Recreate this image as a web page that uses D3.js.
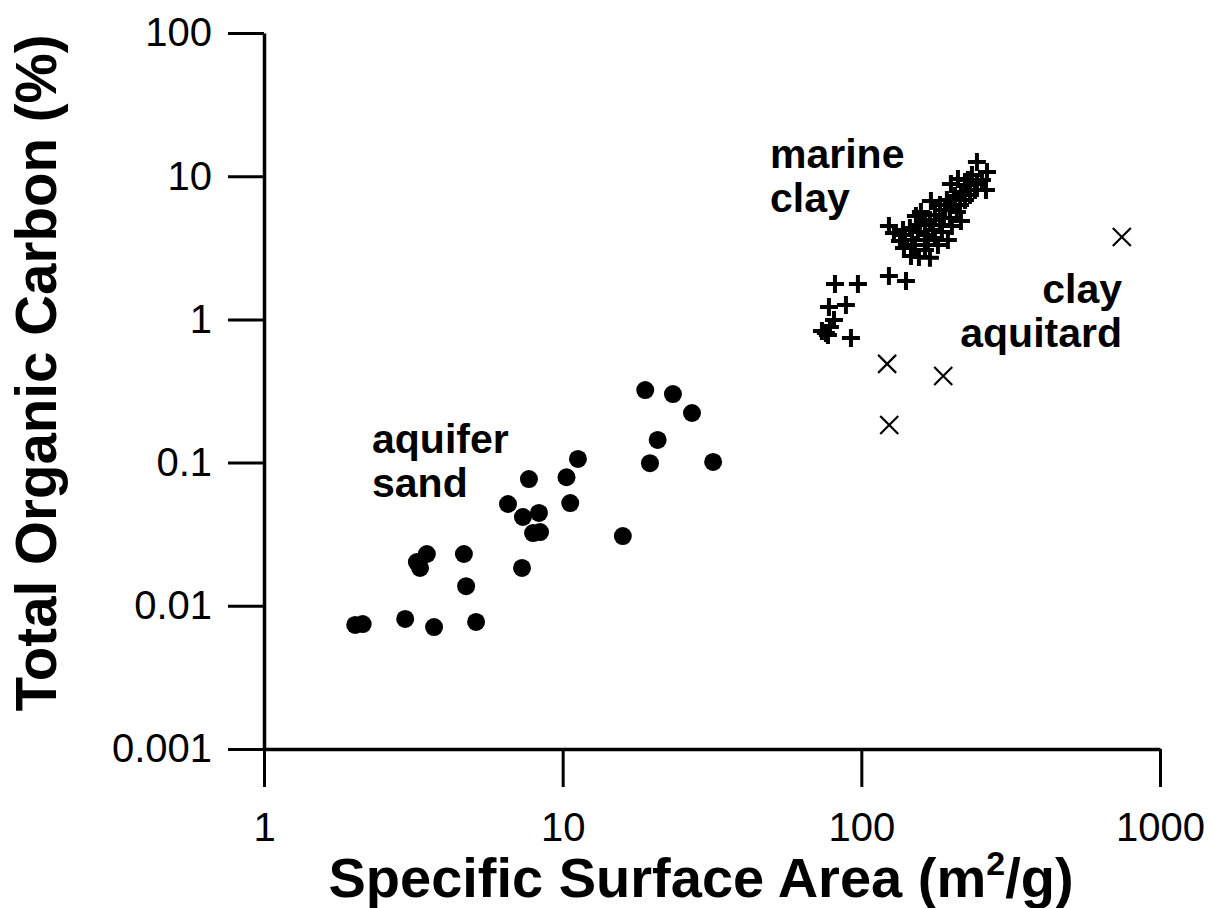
<!DOCTYPE html>
<html>
<head>
<meta charset="utf-8">
<script src="https://cdn.jsdelivr.net/npm/d3@7"></script>
<style>
  html, body { margin: 0; padding: 0; background: #fff; }
  svg { display: block; }
  text { font-family: "Liberation Sans", Arial, sans-serif; fill: #000; }
</style>
</head>
<body>
<svg id="chart" width="1213" height="908"></svg>
<script>
// ---- data ----
const xTicks = [1, 10, 100, 1000];
const xTickLabels = ["1", "10", "100", "1000"];
const yTicks = [0.001, 0.01, 0.1, 1, 10, 100];
const yTickLabels = ["0.001", "0.01", "0.1", "1", "10", "100"];

// aquifer sand (filled circles)
const sandX = [18.9, 23.4, 27.1, 20.8, 19.6, 31.9, 11.25, 10.3, 7.71, 10.6, 6.56, 7.36, 8.33, 7.96, 8.4, 15.9, 3.25, 3.51, 3.33, 4.67, 7.31, 4.75, 2.02, 2.14, 2.97, 3.71, 5.13];
const sandY = [0.321, 0.301, 0.222, 0.144, 0.099, 0.101, 0.106, 0.079, 0.0767, 0.0522, 0.0514, 0.0417, 0.0445, 0.0322, 0.0327, 0.0307, 0.0202, 0.0230, 0.0184, 0.0230, 0.0184, 0.0137, 0.00735, 0.00746, 0.00809, 0.00711, 0.00771];

// marine clay (plus signs)
const marineX = [243.8, 263.4, 261.4, 243.8, 234.6, 222.3, 210.6, 199.5, 215.5, 231.0, 205.8, 193.4, 215.5, 213.9, 197.9, 183.4, 171.0, 176.4, 189.0, 201.0, 158.3, 152.3, 163.3, 173.7, 186.1, 194.9, 180.5, 167.1, 154.7, 145.4, 123.7, 128.6, 134.7, 138.9, 146.6, 155.9, 163.3, 147.7, 137.9, 169.7,
  157.1, 169.7, 183.4, 197.9, 208.9, 190.5, 222.3, 240.1, 227.5, 253.4, 140.0, 151.2, 163.3, 176.4, 186.1, 202.6,
  81.6, 97.4, 123.7, 141.1, 77.9, 88.8, 81.0, 78.5, 76.1, 73.8, 77.3, 92.3];
const marineY = [12.57, 10.70, 8.01, 8.82, 10.19, 8.68, 9.56, 8.82, 7.76, 7.39, 7.27, 6.82, 4.87, 6.30, 5.81, 6.30, 6.71, 5.36, 5.11, 4.49, 5.62, 5.27, 4.79, 4.21, 4.08, 3.58, 3.31, 3.58, 4.08, 4.35, 4.49, 4.01, 3.53, 3.15, 2.77, 2.73, 3.05, 3.58, 4.21, 2.69,
  4.56, 4.94, 4.56, 5.11, 5.62, 5.81, 6.82, 8.01, 9.41, 9.41, 3.89, 3.31, 3.89, 3.70, 4.56, 6.30,
  1.767, 1.767, 2.01, 1.854, 1.221, 1.260, 0.990, 0.885, 0.804, 0.830, 0.779, 0.742];

// clay aquitard (x markers)
const aquitardX = [745, 122, 188, 124];
const aquitardY = [3.76, 0.489, 0.403, 0.183];

const xTitle = "Specific Surface Area (m";
const xTitleSup = "2";
const xTitleEnd = "/g)";
const yTitle = "Total Organic Carbon (%)";
const labelMarine = ["marine", "clay"];
const labelSand = ["aquifer", "sand"];
const labelAquitard = ["clay", "aquitard"];

// ---- chart ----
const svg = d3.select("#chart");
const x = d3.scaleLog().domain([1, 1000]).range([264, 1160]);
const y = d3.scaleLog().domain([0.001, 100]).range([749, 33]);

const yAxis = d3.axisLeft(y).tickValues(yTicks)
  .tickFormat((d, i) => yTickLabels[i]).tickSize(36).tickSizeOuter(0).tickPadding(16);
const gy = svg.append("g").attr("transform", "translate(264,0)").call(yAxis);

const xAxis = d3.axisBottom(x).tickValues(xTicks)
  .tickFormat((d, i) => xTickLabels[i]).tickSize(38).tickSizeOuter(0).tickPadding(26);
const gx = svg.append("g").attr("transform", "translate(0,749)").call(xAxis);

[gx, gy].forEach(g => {
  g.select(".domain").attr("stroke", "#000").attr("stroke-width", 3.5);
  g.selectAll(".tick line").attr("stroke", "#000").attr("stroke-width", 3);
  g.selectAll(".tick text").attr("font-size", 40).attr("fill", "#000")
    .style("font-family", "'Liberation Sans', Arial, sans-serif");
});

// sand points
svg.append("g").selectAll("circle").data(sandX).join("circle")
  .attr("cx", d => x(d)).attr("cy", (d, i) => y(sandY[i])).attr("r", 9).attr("fill", "#000");

// marine clay plus
svg.append("g").selectAll("path").data(marineX).join("path")
  .attr("transform", (d, i) => `translate(${x(d)},${y(marineY[i])})`)
  .attr("d", "M-9,0H9M0,-9V9").attr("stroke", "#000").attr("stroke-width", 4).attr("fill", "none");

// aquitard x
svg.append("g").selectAll("path").data(aquitardX).join("path")
  .attr("transform", (d, i) => `translate(${x(d)},${y(aquitardY[i])})`)
  .attr("d", "M-9,-9L9,9M9,-9L-9,9").attr("stroke", "#000").attr("stroke-width", 2.2).attr("fill", "none");

// axis titles
const xt = svg.append("text").attr("x", 701).attr("y", 897).attr("text-anchor", "middle")
  .attr("font-size", 56).attr("font-weight", "bold");
xt.append("tspan").text(xTitle);
xt.append("tspan").attr("dy", -22).attr("font-size", 34).text(xTitleSup);
xt.append("tspan").attr("dy", 22).text(xTitleEnd);

svg.append("text").attr("transform", "translate(56,373) rotate(-90)").attr("text-anchor", "middle")
  .attr("font-size", 56.5).attr("font-weight", "bold").text(yTitle);

// annotations
function label(lines, px, py, anchor) {
  const t = svg.append("text").attr("font-size", 41).attr("font-weight", "bold").attr("text-anchor", anchor);
  lines.forEach((s, i) => t.append("tspan").attr("x", px).attr("y", py + i * 44).text(s));
}
label(labelMarine, 770, 168, "start");
label(labelSand, 372, 453, "start");
label(labelAquitard, 1122, 303, "end");
</script>
</body>
</html>
